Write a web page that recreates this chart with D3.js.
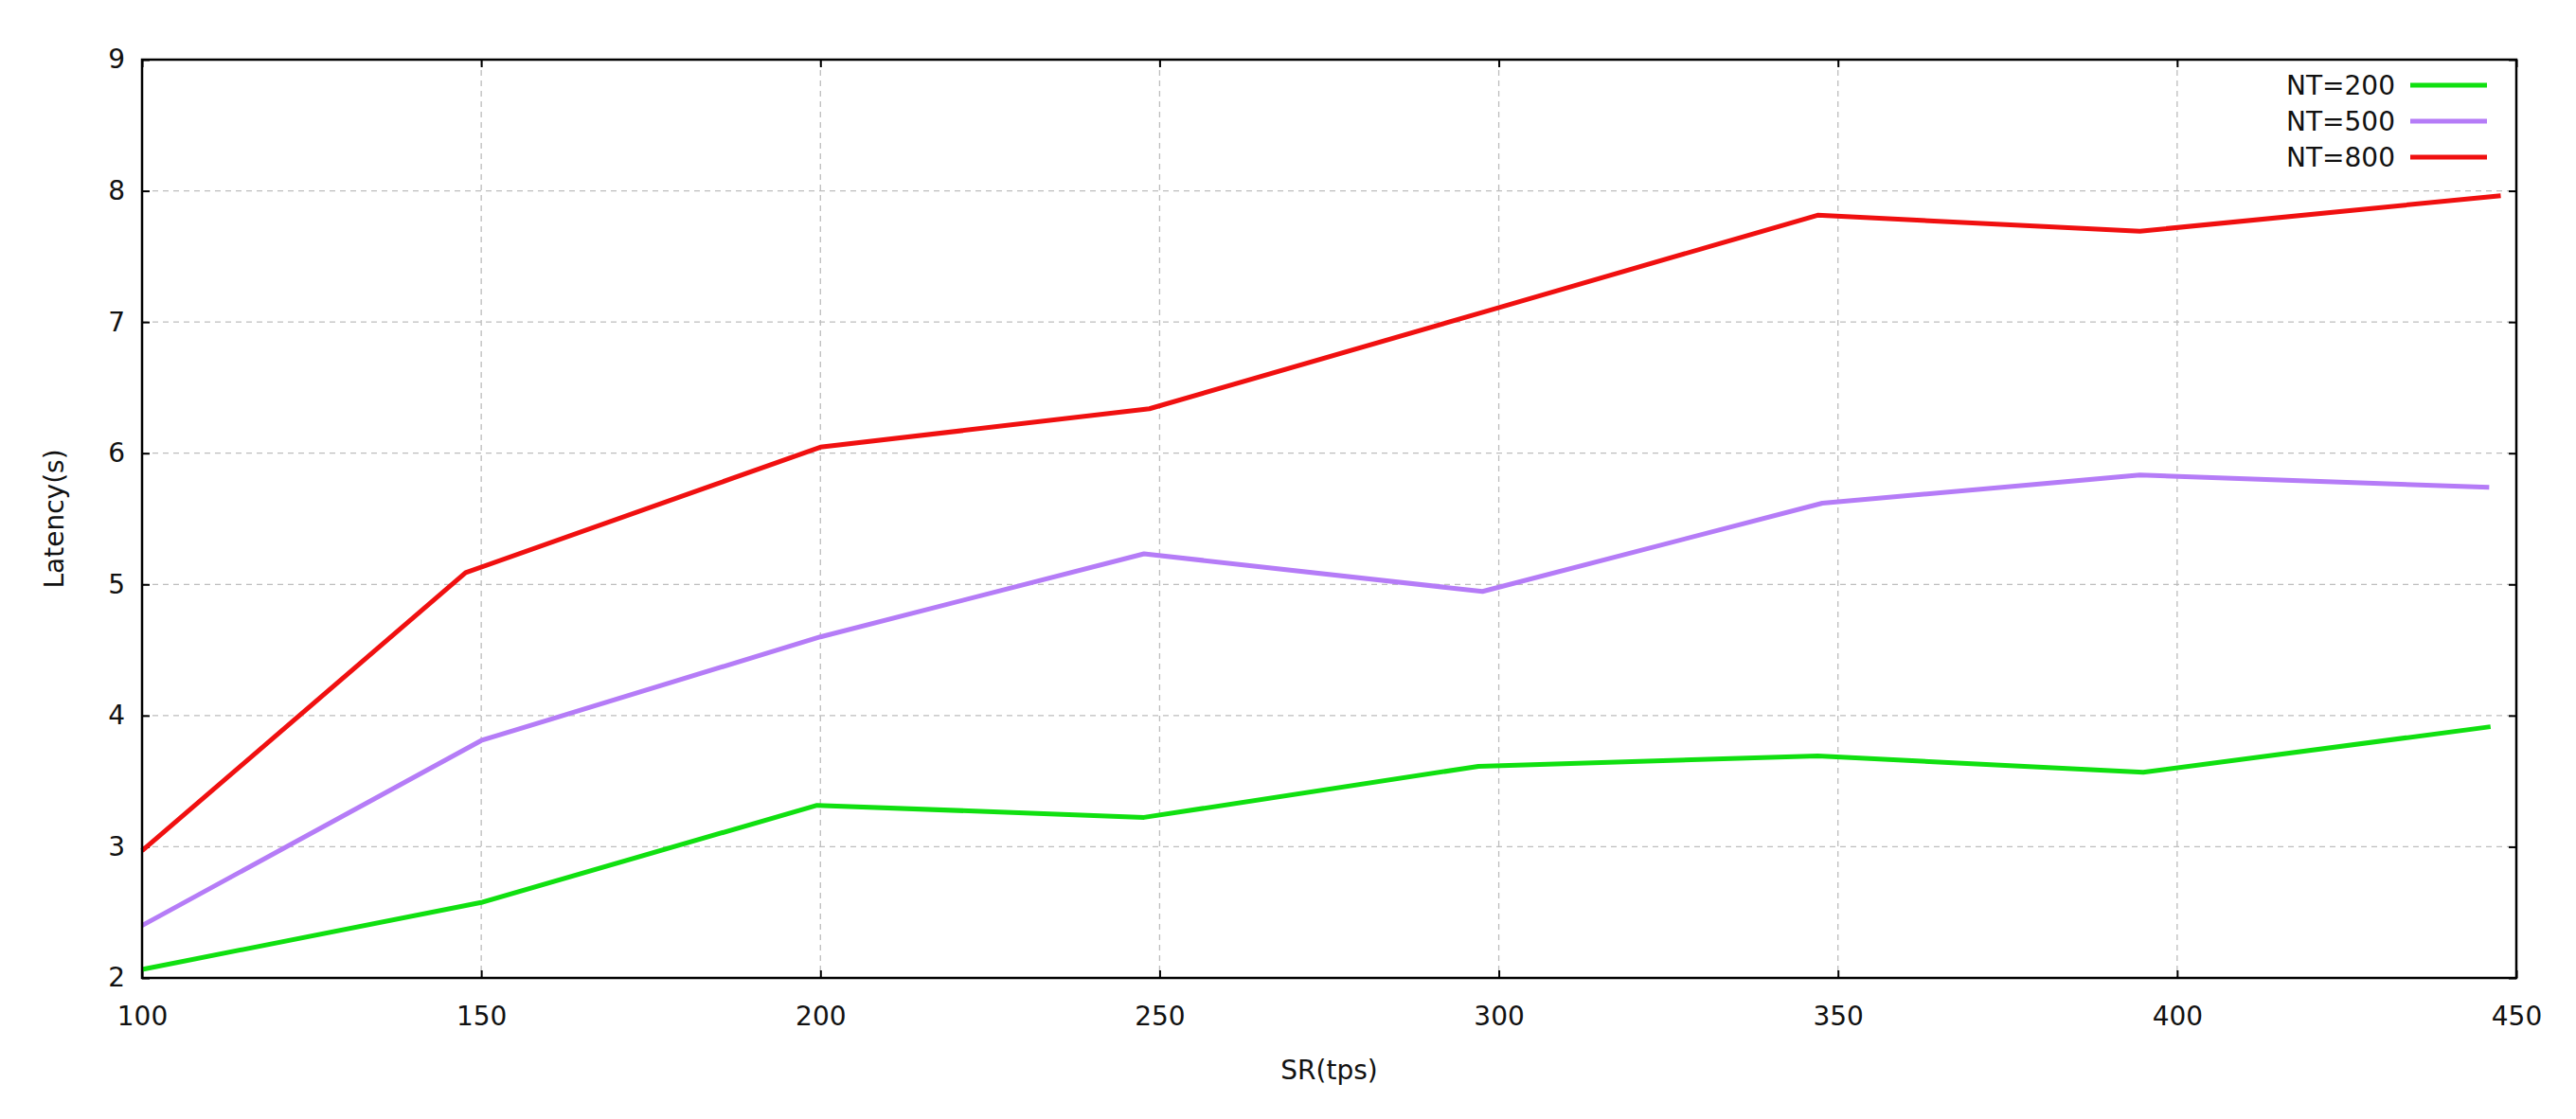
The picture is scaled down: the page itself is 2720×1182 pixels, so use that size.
<!DOCTYPE html>
<html>
<head>
<meta charset="utf-8">
<script src="https://cdn.jsdelivr.net/npm/d3@7"></script>
<style>
  body { margin: 0; background: #fff; }
  text { font-family: "DejaVu Sans", sans-serif; fill: #111; }
</style>
</head>
<body>
<div id="chart"></div>
<script>
// Latency vs send rate, one line per NT
const seriesNames = ['NT=200', 'NT=500', 'NT=800'];
const seriesColors = ['#10e010', '#b57cf7', '#f01010'];

const xNT200 = [100, 150, 199.5, 247.7, 297, 347, 395, 446.2];
const yNT200 = [2.065, 2.575, 3.316, 3.224, 3.613, 3.692, 3.568, 3.915];

const xNT500 = [100, 150, 200, 247.7, 297.6, 347.7, 394.5, 446];
const yNT500 = [2.40, 3.81, 4.60, 5.233, 4.946, 5.619, 5.833, 5.74];

const xNT800 = [100, 147.7, 200, 248.5, 298, 347, 394.5, 447.7];
const yNT800 = [2.97, 5.089, 6.046, 6.339, 7.08, 7.814, 7.692, 7.963];

const xTicks = [100, 150, 200, 250, 300, 350, 400, 450];
const yTicks = [2, 3, 4, 5, 6, 7, 8, 9];

const W = 2720, H = 1182;
const margin = { top: 63, right: 63, bottom: 149, left: 150 };
const width = W - margin.left - margin.right;
const height = H - margin.top - margin.bottom;

const series = [
  { name: seriesNames[0], color: seriesColors[0], xs: xNT200, ys: yNT200 },
  { name: seriesNames[1], color: seriesColors[1], xs: xNT500, ys: yNT500 },
  { name: seriesNames[2], color: seriesColors[2], xs: xNT800, ys: yNT800 },
];

const svg = d3.select('#chart').append('svg')
  .attr('width', W)
  .attr('height', H);

const g = svg.append('g').attr('transform', `translate(${margin.left},${margin.top})`);

const x = d3.scaleLinear().domain([100, 450]).range([0, width]);
const y = d3.scaleLinear().domain([2, 9]).range([height, 0]);

// grid
g.append('g')
  .selectAll('line')
  .data(yTicks.slice(1, -1))
  .join('line')
  .attr('x1', 0).attr('x2', width)
  .attr('y1', d => y(d)).attr('y2', d => y(d))
  .attr('stroke', '#bdbdbd')
  .attr('stroke-width', 1.3)
  .attr('stroke-dasharray', '6,5');

g.append('g')
  .selectAll('line')
  .data(xTicks.slice(1, -1))
  .join('line')
  .attr('x1', d => x(d)).attr('x2', d => x(d))
  .attr('y1', 0).attr('y2', height)
  .attr('stroke', '#bdbdbd')
  .attr('stroke-width', 1.3)
  .attr('stroke-dasharray', '6,5');

// axes: ticks pointing inward, mirrored on all sides
const tickLen = 8;
const axBottom = g.append('g')
  .attr('transform', `translate(0,${height})`)
  .call(d3.axisBottom(x).tickValues(xTicks).tickSizeInner(-tickLen).tickSizeOuter(0).tickPadding(30).tickFormat(d3.format('d')));
const axLeft = g.append('g')
  .call(d3.axisLeft(y).tickValues(yTicks).tickSizeInner(-tickLen).tickSizeOuter(0).tickPadding(18).tickFormat(d3.format('d')));
const axTop = g.append('g')
  .call(d3.axisTop(x).tickValues(xTicks).tickSizeInner(-tickLen).tickSizeOuter(0).tickFormat(''));
const axRight = g.append('g')
  .attr('transform', `translate(${width},0)`)
  .call(d3.axisRight(y).tickValues(yTicks).tickSizeInner(-tickLen).tickSizeOuter(0).tickFormat(''));

[axBottom, axLeft, axTop, axRight].forEach(a => {
  a.selectAll('.domain').remove();
  a.selectAll('.tick line').attr('stroke', '#000').attr('stroke-width', 2);
  a.selectAll('.tick text').attr('font-size', 28).attr('fill', '#111')
    .style('font-family', '"DejaVu Sans", sans-serif');
});

// lines
const line = d3.line()
  .x(d => x(d[0]))
  .y(d => y(d[1]));

g.selectAll('.series')
  .data(series)
  .join('path')
  .attr('class', 'series')
  .attr('fill', 'none')
  .attr('stroke', d => d.color)
  .attr('stroke-width', 5)
  .attr('stroke-linejoin', 'round')
  .attr('d', d => line(d3.zip(d.xs, d.ys)));

// border
g.append('rect')
  .attr('x', 0).attr('y', 0)
  .attr('width', width).attr('height', height)
  .attr('fill', 'none')
  .attr('stroke', '#000')
  .attr('stroke-width', 2.5);

// legend
const legend = g.append('g').attr('transform', `translate(${width - 112},27)`);
const rows = legend.selectAll('g')
  .data(series)
  .join('g')
  .attr('transform', (d, i) => `translate(0,${i * 38})`);
rows.append('text')
  .attr('x', -16)
  .attr('dy', '0.35em')
  .attr('text-anchor', 'end')
  .attr('font-size', 28)
  .text(d => d.name);
rows.append('line')
  .attr('x1', 0).attr('x2', 81)
  .attr('stroke', d => d.color)
  .attr('stroke-width', 5);

// axis titles
svg.append('text')
  .attr('x', margin.left + width / 2)
  .attr('y', 1140)
  .attr('text-anchor', 'middle')
  .attr('font-size', 28)
  .text('SR(tps)');

svg.append('text')
  .attr('transform', `translate(67,${margin.top + height / 2}) rotate(-90)`)
  .attr('text-anchor', 'middle')
  .attr('font-size', 28)
  .text('Latency(s)');
</script>
</body>
</html>
